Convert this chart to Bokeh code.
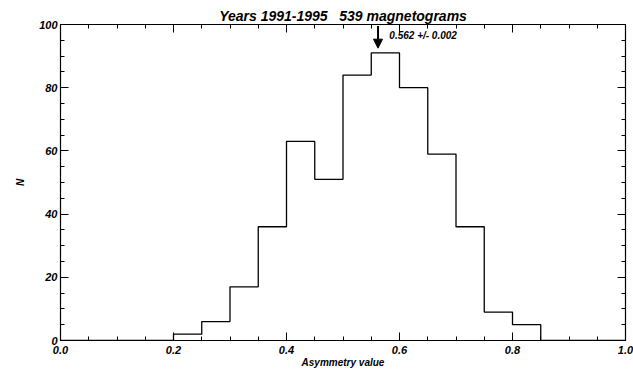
from bokeh.plotting import figure
from bokeh.models import (LinearAxis, SingleIntervalTicker, Range1d, Arrow, NormalHead, Label, Title,
                          NumeralTickFormatter)
from bokeh.embed import file_html
from bokeh.resources import INLINE

# Data
bin_edges = [0.00, 0.05, 0.10, 0.15, 0.20, 0.25, 0.30, 0.35, 0.40, 0.45, 0.50,
             0.55, 0.60, 0.65, 0.70, 0.75, 0.80, 0.85, 0.90, 0.95, 1.00]
counts = [0, 0, 0, 0, 2, 6, 17, 36, 63, 51, 84, 91, 80, 59, 36, 9, 5, 0, 0, 0]
mean_value = 0.562
mean_error = 0.002
title_text = "Years 1991-1995\u00a0\u00a0\u00a0539 magnetograms"
x_label = "Asymmetry value"
y_label = "N"

FONT = "Liberation Sans"

p = figure(width=633, height=373, output_backend="svg", toolbar_location=None,
           x_range=Range1d(0, 1), y_range=Range1d(0, 100),
           x_axis_location=None, y_axis_location=None,
           min_border_left=60, min_border_right=8, min_border_top=24, min_border_bottom=33)
p.grid.visible = False
p.outline_line_color = "black"
p.outline_line_width = 1.2
p.background_fill_color = "white"
p.border_fill_color = "white"

def make_axis(ticker, labels=True, label_text=None):
    ax = LinearAxis(ticker=ticker)
    ax.major_tick_in = 8
    ax.major_tick_out = 0
    ax.minor_tick_in = 4
    ax.minor_tick_out = 0
    ax.axis_line_color = "black"
    ax.major_tick_line_color = "black"
    ax.minor_tick_line_color = "black"
    ax.major_label_text_font = FONT
    ax.major_label_text_font_style = "bold italic"
    ax.major_label_text_font_size = "11px"
    ax.major_label_text_color = "black"
    if not labels:
        ax.major_label_text_font_size = "0px"
        ax.major_label_text_alpha = 0
    if label_text:
        ax.axis_label = label_text
        ax.axis_label_text_font = FONT
        ax.axis_label_text_font_style = "bold italic"
        ax.axis_label_text_font_size = "10px"
        ax.axis_label_text_color = "black"
    return ax

xt = SingleIntervalTicker(interval=0.2, num_minor_ticks=4)
yt = SingleIntervalTicker(interval=20, num_minor_ticks=4)

xb = make_axis(xt, True, x_label)
xb.formatter = NumeralTickFormatter(format="0.0")
xb.major_label_standoff = 5
xb.axis_label_standoff = 0
p.add_layout(xb, "below")
xa = make_axis(SingleIntervalTicker(interval=0.2, num_minor_ticks=4), False)
p.add_layout(xa, "above")
yl = make_axis(yt, True, y_label)
yl.major_label_standoff = 3
yl.axis_label_standoff = 10
p.add_layout(yl, "left")
yr = make_axis(SingleIntervalTicker(interval=20, num_minor_ticks=4), False)
p.add_layout(yr, "right")

# Histogram as step line
step_y = counts + [counts[-1]]
p.step(x=bin_edges, y=step_y, mode="after", line_color="black", line_width=1.3)

# Arrow marking mean
p.add_layout(Arrow(end=NormalHead(size=9, fill_color="black", line_color="black"),
                   x_start=mean_value, y_start=99.5, x_end=mean_value, y_end=92.5,
                   line_color="black", line_width=2))
p.add_layout(Label(x=mean_value + 0.02, y=96.5, text=f"{mean_value:.3f} +/- {mean_error:.3f}",
                   text_font=FONT, text_font_style="bold italic", text_font_size="10px",
                   text_baseline="middle", text_color="black"))

p.title = Title(text=title_text, align="center", text_font=FONT,
                text_font_style="bold italic", text_font_size="14px", text_color="black",
                offset=0, standoff=2)
p.title_location = "above"

open("out.html", "w").write(file_html(p, INLINE))
